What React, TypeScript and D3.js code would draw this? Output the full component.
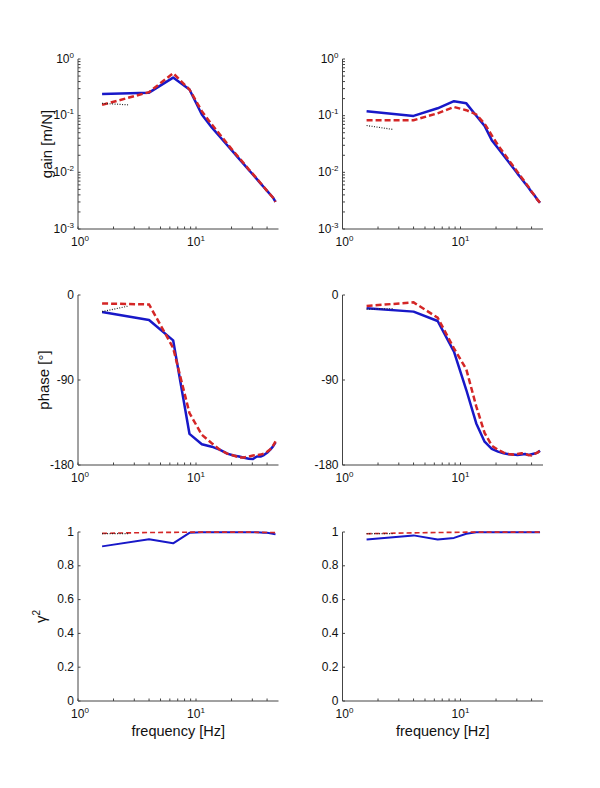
import React from "react";
import * as d3 from "d3";

// ---------- data ----------
const FREQ = [1.6, 4.0, 6.4, 8.8, 11.2, 13.6, 16.0, 18.4, 20.8, 23.2, 25.6, 28.0, 30.4, 32.8, 35.2, 37.6, 40.0, 42.4, 44.8, 47.2];
const DOT_FREQ = [1.6, 2.7];

const GAIN_L_BLUE = [0.24, 0.255, 0.47, 0.29, 0.105, 0.062, 0.042, 0.030, 0.0225, 0.0173, 0.0137, 0.011, 0.0091, 0.0076, 0.0064, 0.00545, 0.0047, 0.0041, 0.0036, 0.003];
const GAIN_L_RED = [0.155, 0.26, 0.56, 0.29, 0.12, 0.07, 0.046, 0.032, 0.0235, 0.018, 0.0142, 0.0113, 0.0093, 0.0077, 0.0065, 0.0055, 0.0047, 0.0041, 0.0036, 0.003];
const GAIN_L_DOT = [0.165, 0.155];

const GAIN_R_BLUE = [0.12, 0.099, 0.135, 0.18, 0.165, 0.1, 0.066, 0.037, 0.0265, 0.0198, 0.0152, 0.0119, 0.0095, 0.0078, 0.0064, 0.0054, 0.0045, 0.0039, 0.0033, 0.0029];
const GAIN_R_RED = [0.083, 0.083, 0.11, 0.142, 0.125, 0.105, 0.072, 0.045, 0.030, 0.022, 0.0165, 0.0128, 0.0101, 0.0082, 0.0067, 0.0056, 0.0046, 0.0039, 0.0033, 0.0029];
const GAIN_R_DOT = [0.067, 0.057];

const PHASE_L_BLUE = [-18, -26.5, -48, -147, -158, -160.6, -164, -168, -170, -171, -172.3, -173.3, -173.6, -171, -171, -169.4, -167, -164, -160.6, -156];
const PHASE_L_RED = [-9, -10, -56, -125, -148, -157, -164, -168, -170, -172, -172, -171, -170, -169.4, -169, -168, -166, -163.7, -160, -155];
const PHASE_L_DOT = [-17.6, -11.6];

const PHASE_R_BLUE = [-14.1, -17.6, -27.5, -60, -100.6, -136, -155.3, -163, -165.8, -167.6, -168.6, -169, -169.4, -169, -168.3, -169.4, -168.6, -167.9, -166.9, -165];
const PHASE_R_RED = [-11.6, -7.8, -24, -56.5, -78.7, -118, -146, -159.5, -164, -166.9, -168.3, -169, -168.3, -167.6, -168.3, -169.4, -169.8, -168.3, -166.9, -164.7];
const PHASE_R_DOT = [-15, -14.5];

const COH_L_BLUE = [0.915, 0.957, 0.933, 0.995, 0.999, 0.999, 0.999, 0.999, 0.999, 0.999, 0.999, 0.999, 0.999, 0.998, 0.997, 0.996, 0.995, 0.993, 0.99, 0.986];
const COH_L_RED = [0.992, 0.997, 0.998, 0.999, 0.999, 0.999, 0.999, 0.999, 0.999, 0.999, 0.999, 0.999, 0.999, 0.998, 0.998, 0.998, 0.997, 0.997, 0.997, 0.996];
const COH_L_DOT = [0.99, 0.99];

const COH_R_BLUE = [0.955, 0.98, 0.955, 0.965, 0.99, 0.999, 0.999, 0.999, 0.999, 0.999, 0.999, 0.999, 0.999, 0.999, 0.999, 0.999, 0.999, 0.999, 0.998, 0.998];
const COH_R_RED = [0.99, 0.995, 0.997, 0.998, 0.999, 0.999, 0.999, 0.999, 0.999, 0.999, 0.999, 0.999, 0.999, 0.999, 0.999, 0.999, 0.999, 0.999, 0.999, 0.999];
const COH_R_DOT = [0.99, 0.99];

const X_MAJOR = [1, 10];
const X_MINOR = [2, 3, 4, 5, 6, 7, 8, 9, 20, 30, 40];
const GAIN_MAJOR = [0.001, 0.01, 0.1, 1];
const GAIN_EXP = ["-3", "-2", "-1", "0"];
const PHASE_TICKS = [0, -90, -180];
const COH_TICKS = [0, 0.2, 0.4, 0.6, 0.8, 1];

// ---------- style ----------
const FONT = "'Liberation Sans', Arial, Helvetica, sans-serif";
const BLUE = "#1818c8";
const RED = "#d42626";
const AXIS = "#444";
const TXT = "#111";

const COL_X = [78, 342.5];
const PW = 200.5;
const ROWS = [
  { top: 59, bottom: 229 },
  { top: 295, bottom: 465 },
  { top: 532, bottom: 701 },
];

function Panel({ col, row, kind, blue, red, dot, yLabel, xLabel }: any) {
  const x0 = COL_X[col];
  const { top, bottom } = ROWS[row];
  const x = d3.scaleLog().domain([1, 50]).range([x0, x0 + PW]);
  let y: any;
  if (kind === "gain") y = d3.scaleLog().domain([0.001, 1]).range([bottom, top]);
  else if (kind === "phase") y = d3.scaleLinear().domain([-180, 0]).range([bottom, top]);
  else y = d3.scaleLinear().domain([0, 1]).range([bottom, top]);

  const line = d3
    .line<number>()
    .x((_, i) => x(FREQ[i]))
    .y((v) => y(v));
  const dline = d3
    .line<number>()
    .x((_, i) => x(DOT_FREQ[i]))
    .y((v) => y(v));

  const tl = 2.5;
  const yMinor: number[] = [];
  if (kind === "gain") {
    for (let e = -3; e < 0; e++) for (let m = 2; m <= 9; m++) yMinor.push(m * Math.pow(10, e));
  }
  const lw = kind === "coh" ? 2 : 2.5;
  const fs = 12;

  return (
    <g>
      {/* lines */}
      <path d={line(blue) || ""} fill="none" stroke={BLUE} strokeWidth={lw} strokeLinejoin="round" />
      <path d={line(red) || ""} fill="none" stroke={RED} strokeWidth={kind === "coh" ? 1.6 : 2.5} strokeDasharray={kind === "coh" ? "5,3" : "6,3"} />
      <path d={dline(dot) || ""} fill="none" stroke="#222" strokeWidth={1.2} strokeDasharray="1,1.5" />

      {/* axes */}
      <line x1={x0} x2={x0 + PW} y1={bottom} y2={bottom} stroke={AXIS} strokeWidth={1} />
      <line x1={x0} x2={x0} y1={top} y2={bottom} stroke={AXIS} strokeWidth={1} />

      {/* x ticks */}
      {X_MAJOR.concat(X_MINOR).map((t) => (
        <line key={"xt" + t} x1={x(t)} x2={x(t)} y1={bottom} y2={bottom - tl} stroke={AXIS} strokeWidth={1} />
      ))}
      {X_MAJOR.map((t, i) => (
        <text key={"xl" + t} x={x(t) + (i === 0 ? 2 : 0)} y={bottom + 17} textAnchor="middle" fontFamily={FONT} fontSize={fs} fill={TXT}>
          10<tspan dy={-5} fontSize={8}>{i}</tspan>
        </text>
      ))}

      {/* y ticks */}
      {kind === "gain" &&
        yMinor.map((t) => (
          <line key={"ym" + t} x1={x0} x2={x0 + tl} y1={y(t)} y2={y(t)} stroke={AXIS} strokeWidth={1} />
        ))}
      {kind === "gain" &&
        GAIN_MAJOR.map((t, i) => (
          <g key={"yg" + t}>
            <line x1={x0} x2={x0 + tl} y1={y(t)} y2={y(t)} stroke={AXIS} strokeWidth={1} />
            <text x={x0 - 4} y={y(t) + 3.5} textAnchor="end" fontFamily={FONT} fontSize={fs} fill={TXT}>
              10<tspan dy={-5} fontSize={8}>{GAIN_EXP[i]}</tspan>
            </text>
          </g>
        ))}
      {kind === "phase" &&
        PHASE_TICKS.map((t) => (
          <g key={"yp" + t}>
            <line x1={x0} x2={x0 + tl} y1={y(t)} y2={y(t)} stroke={AXIS} strokeWidth={1} />
            <text x={x0 - 4} y={y(t) + 3.5} textAnchor="end" fontFamily={FONT} fontSize={fs} fill={TXT}>
              {t}
            </text>
          </g>
        ))}
      {kind === "coh" &&
        COH_TICKS.map((t) => (
          <g key={"yc" + t}>
            <line x1={x0} x2={x0 + tl} y1={y(t)} y2={y(t)} stroke={AXIS} strokeWidth={1} />
            <text x={x0 - 4} y={y(t) + 3.5} textAnchor="end" fontFamily={FONT} fontSize={fs} fill={TXT}>
              {d3.format("")(t)}
            </text>
          </g>
        ))}

      {/* labels */}
      {yLabel && (
        <text
          transform={`translate(${yLabel.x},${(top + bottom) / 2}) rotate(-90)`}
          textAnchor="middle"
          fontFamily={FONT}
          fontSize={15}
          fill={TXT}
        >
          {yLabel.text}
          {yLabel.sup && (
            <tspan dy={-6} fontSize={10}>
              {yLabel.sup}
            </tspan>
          )}
        </text>
      )}
      {xLabel && (
        <text x={x0 + PW / 2} y={bottom + 35} textAnchor="middle" fontFamily={FONT} fontSize={14.5} fill={TXT}>
          {xLabel}
        </text>
      )}
    </g>
  );
}

export default function App() {
  return (
    <svg width={600} height={788} style={{ position: "absolute", left: 0, top: 0, background: "#fff" }}>
      <rect width={600} height={788} fill="#fff" />
      <Panel col={0} row={0} kind="gain" blue={GAIN_L_BLUE} red={GAIN_L_RED} dot={GAIN_L_DOT} yLabel={{ x: 52, text: "gain [m/N]" }} />
      <Panel col={1} row={0} kind="gain" blue={GAIN_R_BLUE} red={GAIN_R_RED} dot={GAIN_R_DOT} />
      <Panel col={0} row={1} kind="phase" blue={PHASE_L_BLUE} red={PHASE_L_RED} dot={PHASE_L_DOT} yLabel={{ x: 49, text: "phase [°]" }} />
      <Panel col={1} row={1} kind="phase" blue={PHASE_R_BLUE} red={PHASE_R_RED} dot={PHASE_R_DOT} />
      <Panel col={0} row={2} kind="coh" blue={COH_L_BLUE} red={COH_L_RED} dot={COH_L_DOT} yLabel={{ x: 46, text: "γ", sup: "2" }} xLabel="frequency [Hz]" />
      <Panel col={1} row={2} kind="coh" blue={COH_R_BLUE} red={COH_R_RED} dot={COH_R_DOT} xLabel="frequency [Hz]" />
    </svg>
  );
}
